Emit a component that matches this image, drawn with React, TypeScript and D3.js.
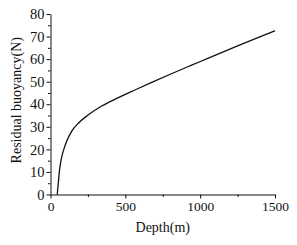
import React, { useEffect, useRef } from 'react';
import * as d3 from 'd3';

// curve
const depth = [45, 52, 59, 66, 73, 81, 90, 108, 141, 186, 253, 342, 450, 560, 680, 800, 935, 1043, 1266, 1500];
const buoyancy = [0, 5, 10, 13.5, 16, 18.2, 20.2, 23.6, 28, 31.6, 35.3, 39.2, 42.8, 46.2, 49.8, 53.3, 57.1, 60.1, 66.3, 72.6];
const xTicks = [0, 500, 1000, 1500];
const xMinor = [250, 750, 1250];
const yTicks = [0, 10, 20, 30, 40, 50, 60, 70, 80];
const yMinor = [5, 15, 25, 35, 45, 55, 65, 75];

export default function App() {
  const svgRef = useRef<SVGSVGElement>(null);
  const W = 297, H = 245;
  const L = 50.5, R = 275, T = 14, B = 194.5;

  useEffect(() => {
    const svg = d3.select(svgRef.current);
    svg.selectAll('*').remove();
    const font = '"Liberation Serif", "Times New Roman", serif';

    const x = d3.scaleLinear().domain([0, 1500]).range([L, R]);
    const y = d3.scaleLinear().domain([0, 80]).range([B, T]);

    // Axes
    const gx = svg.append('g').attr('transform', `translate(0,${B})`)
      .call(d3.axisBottom(x).tickValues(xTicks).tickFormat(d3.format('d')).tickSize(4).tickSizeOuter(0).tickPadding(3));
    gx.selectAll('text').attr('font-size', '13.5').attr('font-family', font).attr('fill', '#111');
    svg.append('g').attr('transform', `translate(0,${B})`)
      .call(d3.axisBottom(x).tickValues(xMinor).tickSize(2.5).tickSizeOuter(0).tickFormat(() => ''))
      .select('.domain').remove();

    const gy = svg.append('g').attr('transform', `translate(${L},0)`)
      .call(d3.axisLeft(y).tickValues(yTicks).tickFormat(d3.format('d')).tickSize(4).tickSizeOuter(0).tickPadding(2));
    gy.selectAll('text').attr('font-size', '14.5').attr('font-family', font).attr('fill', '#111');
    svg.append('g').attr('transform', `translate(${L},0)`)
      .call(d3.axisLeft(y).tickValues(yMinor).tickSize(2.5).tickSizeOuter(0).tickFormat(() => ''))
      .select('.domain').remove();

    svg.selectAll('.domain, .tick line').attr('stroke', '#111').attr('stroke-width', 1);

    // Labels
    svg.append('text').attr('x', (L + R) / 2).attr('y', 232).attr('text-anchor', 'middle')
      .attr('font-family', font).attr('font-size', '14').attr('fill', '#111').text('Depth(m)');
    svg.append('text').attr('transform', `translate(21,${(T + B) / 2 - 4}) rotate(-90)`)
      .attr('text-anchor', 'middle').attr('font-family', font).attr('font-size', '14').attr('fill', '#111')
      .text('Residual buoyancy(N)');

    // Curve
    const line = d3.line<number>()
      .x((_, i) => x(depth[i]))
      .y(d => y(d))
      .curve(d3.curveMonotoneX);
    svg.append('path').datum(buoyancy).attr('d', line)
      .attr('fill', 'none').attr('stroke', '#111').attr('stroke-width', 1.3);
  }, []);

  return (
    <svg ref={svgRef} width={W} height={H}
      style={{ position: 'absolute', left: 0, top: 0, background: '#fff' }} />
  );
}
